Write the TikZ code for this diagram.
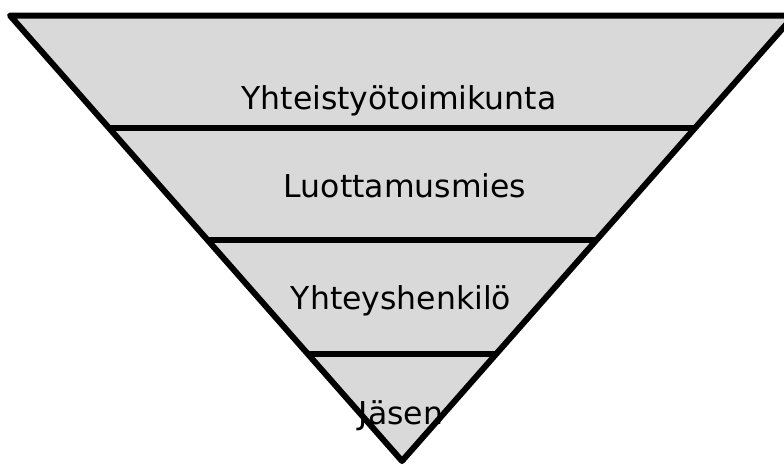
\documentclass[tikz,border=0pt]{standalone}
\usepackage{fontspec}
\setmainfont{DejaVu Sans}
\usetikzlibrary{calc}
\definecolor{levelfill}{HTML}{D9D9D9}
\tikzset{
  outline/.style={line width=6pt, line join=round, draw=black},
  divider/.style={line width=6pt, draw=black},
  levellabel/.style={anchor=base, inner sep=0pt, font=\fontsize{31.5}{34}\selectfont}
}
\begin{document}
\begin{tikzpicture}[x=1pt, y=-1pt]
  \useasboundingbox (0,0) rectangle (784,464);
  \clip (0,0) rectangle (784,464);
  % corners of the inverted triangle
  \coordinate (tl) at (10,15.5);
  \coordinate (tr) at (794,15.5);
  \coordinate (ap) at (402,461);
  \fill[levelfill] (tl) -- (tr) -- (ap) -- cycle;
  % dividing lines between the levels
  \foreach \t/\n in {0.2536/a, 0.5050/b, 0.7598/c} {
    \coordinate (l\n) at ($(tl)!\t!(ap)$);
    \coordinate (r\n) at ($(tr)!\t!(ap)$);
    \draw[divider] (l\n) -- (r\n);
  }
  \draw[outline] (tl) -- (tr) -- (ap) -- cycle;
  % level labels
  \node[levellabel] (yt) at (399,109) {Yhteistyötoimikunta};
  \node[levellabel] (lm) at (405,197) {Luottamusmies};
  \node[levellabel] (yh) at (401,309) {Yhteyshenkilö};
  \node[levellabel] (js) at (401,424) {Jäsen};
\end{tikzpicture}
\end{document}
